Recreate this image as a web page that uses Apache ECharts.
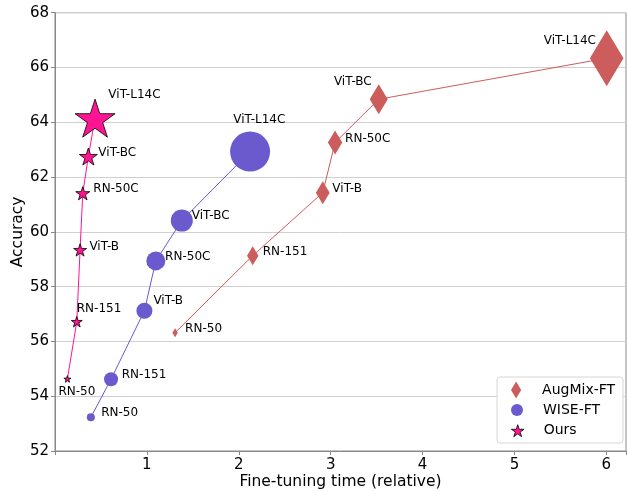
<!DOCTYPE html>
<html>
<head>
<meta charset="utf-8">
<script src="https://cdn.jsdelivr.net/npm/echarts@6/dist/echarts.min.js"></script>
<style>html,body{margin:0;padding:0;background:#fff}#c{width:627px;height:491px}</style>
</head>
<body>
<div id="c"></div>
<script>
// ---- data ----
const modelNames = ['RN-50', 'RN-151', 'ViT-B', 'RN-50C', 'ViT-BC', 'ViT-L14C'];
const augmixTime = [1.307, 2.152, 2.914, 3.048, 3.523, 6.004];
const augmixAcc  = [56.32, 59.13, 61.43, 63.26, 64.84, 66.34];
const wiseTime   = [0.39, 0.61, 0.973, 1.097, 1.38, 2.123];
const wiseAcc    = [53.23, 54.62, 57.12, 58.94, 60.41, 62.93];
const oursTime   = [0.135, 0.237, 0.273, 0.302, 0.363, 0.436];
const oursAcc    = [54.63, 56.72, 59.34, 61.41, 62.75, 64.15];
const augmixMarker = [9, 19, 23, 24, 30, 56];
const wiseMarker   = [8, 14, 16, 19, 22, 40];
const oursMarker   = [7, 11, 13, 14, 18, 40];
const seriesNames = ['AugMix-FT', 'WISE-FT', 'Ours'];
const xTickLabels = [1, 2, 3, 4, 5, 6];
const yTickLabels = [52, 54, 56, 58, 60, 62, 64, 66, 68];

// ---- styling ----
const FONT = 'DejaVu Sans';
const STAR = 'path://M0,-100L22.45,-30.9L95.11,-30.9L36.33,11.8L58.78,80.9L0,38.2L-58.78,80.9L-36.33,11.8L-95.11,-30.9L-22.45,-30.9Z';
const DIAMOND = 'path://M0,-50L30,0L0,50L-30,0Z';
const COLORS = ['#CD5C5C', '#6A5ACD', '#FF1493'];
const labelLayout = {
  augmix: [['left',10,-4],['left',10,-4],['left',9.6,-3.7],['left',10,-3.4],['right',-7,-17.6],['right',-10.7,-17.6]],
  wise:   [['left',10.3,-4],['left',10.7,-4.3],['left',9,-10],['left',9.3,-3.7],['left',10,-4.7],['center',9.2,-31.7]],
  ours:   [['left',-9,13],['left',0,-12.4],['left',9.3,-3.3],['left',10.6,-4],['left',10,-3.4],['left',13.3,-23.3]]
};

function buildData(xs, ys, layout) {
  return xs.map((x, i) => ({
    value: [x, ys[i]],
    name: modelNames[i],
    label: {align: layout[i][0], offset: [layout[i][1], layout[i][2]]}
  }));
}

function makeSeries(name, xs, ys, sizes, layout, color, symbol, border) {
  return {
    name: name,
    type: 'line',
    data: buildData(xs, ys, layout),
    symbol: symbol,
    symbolKeepAspect: true,
    symbolSize: (v, p) => sizes[p.dataIndex],
    lineStyle: {color: color, width: 1},
    itemStyle: {color: color, borderColor: border ? '#000' : color, borderWidth: border ? 0.8 : 0, opacity: 1},
    label: {
      show: true, position: 'inside', verticalAlign: 'middle',
      formatter: p => p.name, color: '#000', fontFamily: FONT, fontSize: 12
    },
    emphasis: {disabled: true},
    animation: false
  };
}

const legendBase = {
  orient: 'horizontal', left: 511, itemWidth: 42, padding: 0,
  textStyle: {fontFamily: FONT, fontSize: 14, color: '#000'},
  selectedMode: false, symbolKeepAspect: true
};

const chart = echarts.init(document.getElementById('c'), null, {renderer: 'canvas'});
chart.setOption({
  backgroundColor: '#fff',
  animation: false,
  grid: {left: 55, right: 1, top: 12.7, bottom: 40, show: true, borderColor: '#888', borderWidth: 1,
         backgroundColor: 'transparent', containLabel: false, outerBoundsMode: 'none'},
  xAxis: {
    type: 'value', min: 0, max: 6.214, interval: 1,
    name: 'Fine-tuning time (relative)', nameLocation: 'middle', nameGap: 23, nameMoveOverlap: false,
    nameTextStyle: {fontFamily: FONT, fontSize: 15.5, color: '#000'},
    axisLine: {show: true, lineStyle: {color: '#888'}},
    axisTick: {show: true, length: 4, lineStyle: {color: '#888'}},
    splitLine: {show: false},
    axisLabel: {
      fontFamily: FONT, fontSize: 15, color: '#000', margin: 7,
      formatter: v => (xTickLabels.indexOf(v) >= 0 ? String(v) : ''),
      showMinLabel: true, showMaxLabel: true
    }
  },
  yAxis: {
    type: 'value', min: 52, max: 68, interval: 2,
    name: 'Accuracy', nameLocation: 'middle', nameGap: 29, nameRotate: 90, nameMoveOverlap: false,
    nameTextStyle: {fontFamily: FONT, fontSize: 15.5, color: '#000'},
    axisLine: {show: true, lineStyle: {color: '#888'}},
    axisTick: {show: true, length: 4, lineStyle: {color: '#888'}},
    splitLine: {show: true, lineStyle: {color: '#d0d0d0', width: 1}},
    axisLabel: {
      fontFamily: FONT, fontSize: 15, color: '#000', margin: 6,
      formatter: v => (yTickLabels.indexOf(v) >= 0 ? String(v) : '')
    }
  },
  graphic: [{
    type: 'rect', z: 3,
    shape: {x: 497, y: 377, width: 126, height: 66, r: 3},
    style: {fill: '#fff', stroke: '#d6d6d6', lineWidth: 1}
  }],
  legend: [
    Object.assign({}, legendBase, {top: 381.5, itemHeight: 17,
      data: [{name: seriesNames[0], icon: DIAMOND, itemStyle: {color: COLORS[0], borderWidth: 0}}]}),
    Object.assign({}, legendBase, {top: 403, itemHeight: 12,
      data: [{name: seriesNames[1], icon: 'circle', itemStyle: {color: COLORS[1], borderWidth: 0}}]}),
    Object.assign({}, legendBase, {top: 423.7, itemHeight: 12,
      data: [{name: seriesNames[2], icon: STAR, itemStyle: {color: COLORS[2], borderColor: '#000', borderWidth: 0.8}}]})
  ],
  series: [
    makeSeries(seriesNames[0], augmixTime, augmixAcc, augmixMarker, labelLayout.augmix, COLORS[0], DIAMOND, false),
    makeSeries(seriesNames[1], wiseTime, wiseAcc, wiseMarker, labelLayout.wise, COLORS[1], 'circle', false),
    makeSeries(seriesNames[2], oursTime, oursAcc, oursMarker, labelLayout.ours, COLORS[2], STAR, true)
  ]
});
</script>
</body>
</html>
